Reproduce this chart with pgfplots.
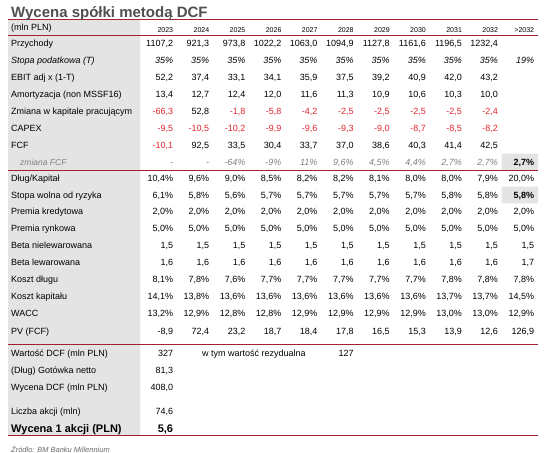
\documentclass[border=0pt]{standalone}
\usepackage{pgfplots}
\pgfplotsset{compat=1.18}
\usepackage{pgfplotstable}
\usepackage{fontspec}
\setmainfont{Liberation Sans}
\definecolor{titlegray}{HTML}{505050}
\definecolor{crimson}{HTML}{A31F34}
\definecolor{negred}{HTML}{E3262E}
\definecolor{bggray}{HTML}{E4E4E4}
\definecolor{txtgray}{HTML}{808080}
\definecolor{srcgray}{HTML}{6E6E6E}

% rows in regular black
\pgfplotstableread[col sep=semicolon,row sep=\\]{
y;c1;c2;c3;c4;c5;c6;c7;c8;c9;c10;c11\\
43.5;1107,2;921,3;973,8;1022,2;1063,0;1094,9;1127,8;1161,6;1196,5;1232,4;\\
77.5;52,2;37,4;33,1;34,1;35,9;37,5;39,2;40,9;42,0;43,2;\\
94.5;13,4;12,7;12,4;12,0;11,6;11,3;10,9;10,6;10,3;10,0;\\
111.3;;52,8;;;;;;;;;\\
145.2;;92,5;33,5;30,4;33,7;37,0;38,6;40,3;41,4;42,5;\\
177.8;10,4\%;9,6\%;9,0\%;8,5\%;8,2\%;8,2\%;8,1\%;8,0\%;8,0\%;7,9\%;20,0\%\\
194.8;6,1\%;5,8\%;5,6\%;5,7\%;5,7\%;5,7\%;5,7\%;5,7\%;5,8\%;5,8\%;\\
211.7;2,0\%;2,0\%;2,0\%;2,0\%;2,0\%;2,0\%;2,0\%;2,0\%;2,0\%;2,0\%;2,0\%\\
228.7;5,0\%;5,0\%;5,0\%;5,0\%;5,0\%;5,0\%;5,0\%;5,0\%;5,0\%;5,0\%;5,0\%\\
245.6;1,5;1,5;1,5;1,5;1,5;1,5;1,5;1,5;1,5;1,5;1,5\\
262.5;1,6;1,6;1,6;1,6;1,6;1,6;1,6;1,6;1,6;1,6;1,7\\
279.4;8,1\%;7,8\%;7,6\%;7,7\%;7,7\%;7,7\%;7,7\%;7,7\%;7,8\%;7,8\%;7,8\%\\
296.5;14,1\%;13,8\%;13,6\%;13,6\%;13,6\%;13,6\%;13,6\%;13,6\%;13,7\%;13,7\%;14,5\%\\
313.4;13,2\%;12,9\%;12,8\%;12,8\%;12,9\%;12,9\%;12,9\%;12,9\%;13,0\%;13,0\%;12,9\%\\
330.8;-8,9;72,4;23,2;18,7;18,4;17,8;16,5;15,3;13,9;12,6;126,9\\
}\tblblack

% negative values in red
\pgfplotstableread[col sep=semicolon,row sep=\\]{
y;c1;c2;c3;c4;c5;c6;c7;c8;c9;c10;c11\\
111.3;-66,3;;-1,8;-5,8;-4,2;-2,5;-2,5;-2,5;-2,5;-2,4;\\
128.2;-9,5;-10,5;-10,2;-9,9;-9,6;-9,3;-9,0;-8,7;-8,5;-8,2;\\
145.2;-10,1;;;;;;;;;;\\
}\tblred

% tax rate (italic)
\pgfplotstableread[col sep=semicolon,row sep=\\]{
y;c1;c2;c3;c4;c5;c6;c7;c8;c9;c10;c11\\
60.5;35\%;35\%;35\%;35\%;35\%;35\%;35\%;35\%;35\%;35\%;19\%\\
}\tblital

% FCF change (grey italic)
\pgfplotstableread[col sep=semicolon,row sep=\\]{
y;c1;c2;c3;c4;c5;c6;c7;c8;c9;c10;c11\\
162;-;-;-64\%;-9\%;11\%;9,6\%;4,5\%;4,4\%;2,7\%;2,7\%;\\
}\tblgray

% header years
\pgfplotstableread[col sep=semicolon,row sep=\\]{
y;c1;c2;c3;c4;c5;c6;c7;c8;c9;c10;c11\\
27;2023;2024;2025;2026;2027;2028;2029;2030;2031;2032;>2032\\
}\tblhdr

% row labels
\pgfplotstableread[col sep=semicolon,row sep=\\]{
y;t\\
27;(mln PLN)\\
43.5;Przychody\\
77.5;EBIT adj x (1-T)\\
94.5;Amortyzacja (non MSSF16)\\
111.3;Zmiana w kapitale pracującym\\
128.2;CAPEX\\
145.2;FCF\\
177.8;Dług/Kapitał\\
194.8;Stopa wolna od ryzyka\\
211.7;Premia kredytowa\\
228.7;Premia rynkowa\\
245.6;Beta nielewarowana\\
262.5;Beta lewarowana\\
279.4;Koszt długu\\
296.5;Koszt kapitału\\
313.4;WACC\\
330.8;PV (FCF)\\
353;Wartość DCF (mln PLN)\\
370;(Dług) Gotówka netto\\
387.5;Wycena DCF (mln PLN)\\
411;Liczba akcji (mln)\\
}\tbllabels

\pgfplotsset{
  txt/.style={only marks, mark=*, mark size=0pt, mark options={draw=none,fill=none},
    nodes near coords, point meta=explicit symbolic,
    every node near coord/.append style={inner sep=0pt, yshift=-3.2pt, text=black,
      font=\fontsize{9}{10.5}\selectfont}},
  R/.style={txt, every node near coord/.append style={anchor=base east}},
  L/.style={txt, every node near coord/.append style={anchor=base west}},
  nf/.style={every node near coord/.append style={#1}},
}

\begin{document}
\begin{tikzpicture}
\begin{axis}[
  scale only axis, width=547pt, height=453pt,
  xmin=0, xmax=547, ymin=0, ymax=453, y dir=reverse,
  hide axis, clip=false,
]
% page background
\addplot[fill=white, draw=none] coordinates {(0,0) (547,0) (547,453) (0,453) (0,0)};
% grey label column and highlighted cells
\addplot[fill=bggray, draw=none] coordinates {(8,19) (140,19) (140,435.5) (8,435.5) (8,19)};
\addplot[fill=bggray, draw=none] coordinates {(501.5,153.5) (538,153.5) (538,170) (501.5,170) (501.5,153.5)};
\addplot[fill=bggray, draw=none] coordinates {(501.5,186.5) (538,186.5) (538,203.3) (501.5,203.3) (501.5,186.5)};
% rules
\addplot[crimson, line width=0.9pt] coordinates {(8,19) (538,19)};
\addplot[crimson, line width=0.8pt] coordinates {(8,35.2) (538,35.2)};
\addplot[crimson, line width=0.9pt] coordinates {(8,170) (538,170)};
\addplot[crimson, line width=0.9pt] coordinates {(8,344.3) (538,344.3)};
\addplot[crimson, line width=0.9pt] coordinates {(8,435.5) (538,435.5)};

% title
\addplot[L, nf={font=\fontsize{15}{17}\bfseries, text=titlegray, yshift=0pt}]
  coordinates {(11,14) [Wycena spółki metodą DCF]};

% labels
\addplot[L] table[x expr=11, y=y, meta=t] {\tbllabels};
\addplot[L, nf={font=\fontsize{9}{10.5}\selectfont\itshape}]
  table[x expr=11, y=y, meta=t, col sep=semicolon, row sep=\\] {y;t\\ 60.5;Stopa podatkowa (T)\\};
\addplot[L, nf={font=\fontsize{8.5}{10}\selectfont\itshape, text=txtgray}]
  coordinates {(20,162) [zmiana FCF]};
\addplot[L, nf={font=\fontsize{11}{13}\bfseries, yshift=-0.7pt}]
  table[x expr=11, y=y, meta=t, col sep=semicolon, row sep=\\] {y;t\\ 428.3;Wycena 1 akcji (PLN)\\};
\addplot[L, nf={font=\fontsize{7.5}{9}\selectfont\itshape, text=srcgray, yshift=0pt}]
  coordinates {(11,449.5) [Źródło: BM Banku Millennium]};

% table body
\pgfplotsinvokeforeach{1,...,11}{
  \addplot[R, nf={font=\fontsize{7}{8}\selectfont, yshift=-2.5pt}]
    table[x expr={137.2+36.1*#1}, y=y, meta=c#1] {\tblhdr};
  \addplot[R] table[x expr={137.2+36.1*#1}, y=y, meta=c#1] {\tblblack};
  \addplot[R, nf={text=negred}] table[x expr={137.2+36.1*#1}, y=y, meta=c#1] {\tblred};
  \addplot[R, nf={font=\fontsize{9}{10.5}\selectfont\itshape}] table[x expr={137.2+36.1*#1}, y=y, meta=c#1] {\tblital};
  \addplot[R, nf={font=\fontsize{9}{10.5}\selectfont\itshape, text=txtgray}] table[x expr={137.2+36.1*#1}, y=y, meta=c#1] {\tblgray};
}
\addplot[R, nf={font=\fontsize{9}{10.5}\bfseries}]
  coordinates {(534.3,162) [2,7\%] (534.3,194.8) [5,8\%]};

% valuation summary
\addplot[R] coordinates {(173.3,353) [327] (173.3,370) [81,3] (173.3,387.5) [408,0] (173.3,411) [74,6] (353.8,353) [127]};
\addplot[L] table[x expr=202, y=y, meta=t, col sep=semicolon, row sep=\\] {y;t\\ 353;w tym wartość rezydualna\\};
\addplot[R, nf={font=\fontsize{11}{13}\bfseries, yshift=-0.7pt}]
  coordinates {(173.3,428.3) [5,6]};
\end{axis}
\end{tikzpicture}
\end{document}
